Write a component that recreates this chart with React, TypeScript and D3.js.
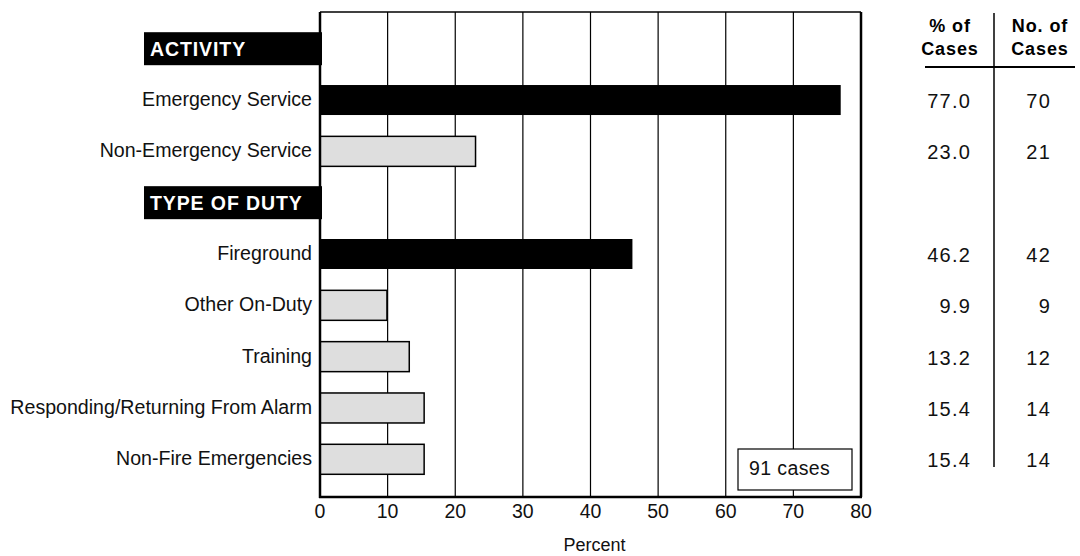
import React from "react";
import * as d3 from "d3";

const rowLabels = [
  "ACTIVITY",
  "Emergency Service",
  "Non-Emergency Service",
  "TYPE OF DUTY",
  "Fireground",
  "Other On-Duty",
  "Training",
  "Responding/Returning From Alarm",
  "Non-Fire Emergencies",
];
const rowKinds = ["header", "dark", "light", "header", "dark", "light", "light", "light", "light"];
const percentValues: (number | null)[] = [null, 77.0, 23.0, null, 46.2, 9.9, 13.2, 15.4, 15.4];
const caseCounts: (number | null)[] = [null, 70, 21, null, 42, 9, 12, 14, 14];
const xTicks = [0, 10, 20, 30, 40, 50, 60, 70, 80];
const tableHeaders = [["% of", "Cases"], ["No. of", "Cases"]];
const totalLabel = "91 cases";
const axisTitle = "Percent";

const W = 1080;
const H = 556;
const FONT = "'Liberation Sans', Arial, sans-serif";

export default function App() {
  const x = d3.scaleLinear().domain([0, 80]).range([320, 861]);
  const y = d3.scaleLinear().domain([0, 8]).range([48.7, 459.3]);
  const top = 12;
  const bottom = 497;
  const barH = 30;

  return (
    <svg
      width={W}
      height={H}
      viewBox={`0 0 ${W} ${H}`}
      style={{ position: "absolute", left: 0, top: 0, background: "#fff" }}
      fontFamily={FONT}
    >
      <rect x={0} y={0} width={W} height={H} fill="#fff" />
      {/* gridlines */}
      {xTicks.slice(1, -1).map((t) => (
        <line key={t} x1={x(t)} x2={x(t)} y1={top} y2={bottom} stroke="#000" strokeWidth={1.2} />
      ))}
      {/* frame */}
      <line x1={x(0)} x2={x(80)} y1={top} y2={top} stroke="#000" strokeWidth={1.5} />
      <line x1={x(80)} x2={x(80)} y1={top} y2={bottom} stroke="#000" strokeWidth={2.5} />

      {/* rows */}
      {rowLabels.map((lab, i) => {
        const cy = y(i);
        const kind = rowKinds[i];
        if (kind === "header") {
          return (
            <g key={i}>
              <rect x={144} y={cy - 16.5} width={x(0) + 2 - 144} height={33} fill="#000" />
              <text
                x={150}
                y={cy + 7}
                fill="#fff"
                fontWeight="bold"
                fontSize={19.5}
                letterSpacing={0.9}
              >
                {lab}
              </text>
            </g>
          );
        }
        const v = percentValues[i] as number;
        return (
          <g key={i}>
            <text x={312} y={cy + 6} textAnchor="end" fontSize={19.6} fill="#111">
              {lab}
            </text>
            <rect
              x={x(0)}
              y={cy - barH / 2}
              width={x(v) - x(0)}
              height={barH}
              fill={kind === "dark" ? "#000" : "#dedede"}
              stroke="#000"
              strokeWidth={kind === "dark" ? 0 : 1.5}
            />
            <text x={971} y={cy + 8} textAnchor="end" fontSize={20} fill="#111" letterSpacing={1.2}>
              {v.toFixed(1)}
            </text>
            <text x={1051} y={cy + 8} textAnchor="end" fontSize={20} fill="#111" letterSpacing={1.2}>
              {caseCounts[i]}
            </text>
          </g>
        );
      })}

      {/* left & bottom axis */}
      <line x1={x(0)} x2={x(0)} y1={top} y2={bottom + 1} stroke="#000" strokeWidth={2.5} />
      <line x1={x(0) - 1} x2={x(80) + 1} y1={bottom} y2={bottom} stroke="#000" strokeWidth={2.5} />
      {xTicks.map((t) => (
        <text key={t} x={x(t)} y={518} textAnchor="middle" fontSize={19.5} fill="#111">
          {t}
        </text>
      ))}
      <text x={(x(0) + x(80)) / 2 + 4} y={551} textAnchor="middle" fontSize={18} fill="#111">
        {axisTitle}
      </text>

      {/* total box */}
      <rect x={738} y={449} width={114} height={41} fill="#fff" stroke="#000" strokeWidth={1.2} />
      <text x={749} y={475} fontSize={19.5} fill="#111" letterSpacing={0.4}>
        {totalLabel}
      </text>

      {/* table header */}
      {tableHeaders.map((hdr, j) => (
        <g key={j}>
          {hdr.map((s, k) => (
            <text
              key={k}
              x={j === 0 ? 950 : 1040}
              y={32 + k * 23}
              textAnchor="middle"
              fontWeight="bold"
              fontSize={18}
              letterSpacing={0.9}
              fill="#000"
            >
              {s}
            </text>
          ))}
        </g>
      ))}
      <line x1={994} x2={994} y1={13} y2={467} stroke="#000" strokeWidth={1.5} />
      <line x1={925} x2={1075} y1={67} y2={67} stroke="#000" strokeWidth={2} />
    </svg>
  );
}
